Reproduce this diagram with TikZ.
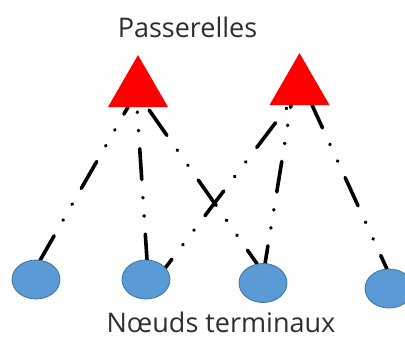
\documentclass[tikz,border=0pt]{standalone}
\usepackage{fontspec}
\setmainfont{Open Sans}
\usetikzlibrary{shapes.geometric}
\pgfdeclarelayer{background}
\pgfsetlayers{background,main}
\definecolor{nodefill}{HTML}{5B9BD5}
\definecolor{nodeedge}{HTML}{41719C}
\definecolor{labelgray}{HTML}{2E2E2E}
\begin{document}
\begin{tikzpicture}[x=1pt,y=-1pt,
  gateway/.style={regular polygon, regular polygon sides=3, fill=red,
    inner sep=0pt, outer sep=0pt, minimum size=69.3pt},
  terminal/.style={ellipse, fill=nodefill, draw=nodeedge, line width=0.8pt,
    minimum width=48pt, minimum height=39pt, inner sep=0pt, outer sep=0pt},
  link/.style={line width=3.6pt, line cap=round,
    dash pattern=on 31pt off 18pt on 0.3pt off 18pt on 0.3pt off 18pt},
  caption/.style={font=\fontsize{27}{32}\selectfont, text=labelgray,
    anchor=base, inner sep=0pt}]
\useasboundingbox (0,0) rectangle (405,338);

% gateways
\node[gateway] (t1) at (138,89.7) {};
\node[gateway] (t2) at (299.5,87.7) {};
\coordinate (t1a) at (128,107);
\coordinate (t1b) at (137,107);
\coordinate (t1c) at (147,107);
\coordinate (t2a) at (289,105);
\coordinate (t2b) at (291,105);
\coordinate (t2c) at (312,105);

% end devices
\node[terminal] (e1) at (36,279.5) {};
\node[terminal] (e2) at (146,279.5) {};
\node[terminal] (e3) at (263,283) {};
\node[terminal] (e4) at (389,288.5) {};

% radio links
\begin{pgfonlayer}{background}
\draw[link, dash phase=2.75pt] (e1.78) -- (t1a);
\draw[link, dash phase=5pt] (e2.87) -- (t1b);
\draw[link, dash phase=14pt] (e3.107) -- (t1c);
\draw[link, dash phase=20pt] (e2.31) -- (t2a);
\draw[link, dash phase=13pt] (e3.84) -- (t2b);
\draw[link, dash phase=16pt] (e4.96) -- (t2c);
\end{pgfonlayer}

% captions
\node[caption] (gwlabel) at (187.5,37) {Passerelles};
\node[caption] (edlabel) at (221,332.5) {Nœuds terminaux};
\end{tikzpicture}
\end{document}
